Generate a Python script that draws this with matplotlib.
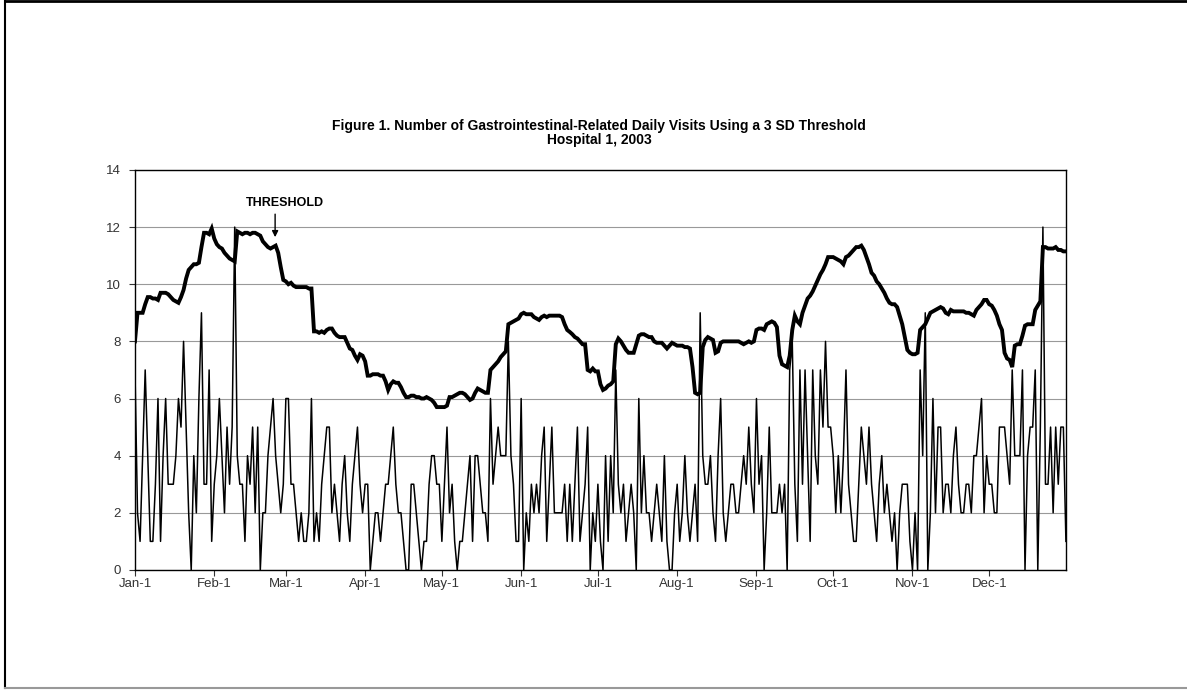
import matplotlib
matplotlib.use("Agg")
import matplotlib.pyplot as plt
from matplotlib.lines import Line2D
import numpy as np

plt.rcParams['font.family'] = ['Liberation Sans', 'DejaVu Sans']

# daily visit counts, Jan-1 .. Dec-31 (10 days per row)
visits = [
    7, 2, 1, 4, 7, 4, 1, 1, 3, 6,
    1, 4, 6, 3, 3, 3, 4, 6, 5, 8,
    5, 2, 0, 4, 2, 6, 9, 3, 3, 7,
    1, 3, 4, 6, 4, 2, 5, 3, 5, 12,
    4, 3, 3, 1, 4, 3, 5, 2, 5, 0,
    2, 2, 4, 5, 6, 4, 3, 2, 3, 6,
    6, 3, 3, 2, 1, 2, 1, 1, 2, 6,
    1, 2, 1, 3, 4, 5, 5, 2, 3, 2,
    1, 3, 4, 2, 1, 3, 4, 5, 3, 2,
    3, 3, 0, 1, 2, 2, 1, 2, 3, 3,
    4, 5, 3, 2, 2, 1, 0, 0, 3, 3,
    2, 1, 0, 1, 1, 3, 4, 4, 3, 3,
    1, 3, 5, 2, 3, 1, 0, 1, 1, 2,
    3, 4, 1, 4, 4, 3, 2, 2, 1, 6,
    3, 4, 5, 4, 4, 4, 8, 4, 3, 1,
    1, 6, 0, 2, 1, 3, 2, 3, 2, 4,
    5, 1, 3, 5, 2, 2, 2, 2, 3, 1,
    3, 1, 3, 5, 1, 2, 3, 5, 0, 2,
    1, 3, 1, 0, 4, 1, 4, 2, 7, 3,
    2, 3, 1, 2, 3, 2, 0, 6, 2, 4,
    2, 2, 1, 2, 3, 2, 1, 4, 1, 0,
    0, 2, 3, 1, 2, 4, 2, 1, 2, 3,
    1, 9, 4, 3, 3, 4, 2, 1, 4, 6,
    2, 1, 2, 3, 3, 2, 2, 3, 4, 3,
    5, 3, 2, 6, 3, 4, 0, 2, 5, 2,
    2, 2, 3, 2, 3, 0, 7, 8, 3, 1,
    7, 3, 7, 4, 1, 7, 4, 3, 7, 5,
    8, 5, 5, 4, 2, 4, 2, 4, 7, 3,
    2, 1, 1, 3, 5, 4, 3, 5, 3, 2,
    1, 3, 4, 2, 3, 2, 1, 2, 0, 2,
    3, 3, 3, 1, 0, 2, 0, 7, 4, 9,
    0, 2, 6, 2, 5, 5, 2, 3, 3, 2,
    4, 5, 3, 2, 2, 3, 3, 2, 4, 4,
    5, 6, 2, 4, 3, 3, 2, 2, 5, 5,
    5, 4, 3, 7, 4, 4, 4, 7, 0, 4,
    5, 5, 7, 0, 5, 12, 3, 3, 5, 2,
    5, 3, 5, 5, 1,
]

# 3 SD threshold, same days
threshold = [
    # Jan
    8.0, 9.0, 9.0, 9.0, 9.3, 9.55, 9.55, 9.5, 9.5, 9.45,
    9.7, 9.7, 9.7, 9.65, 9.55, 9.45, 9.4, 9.35, 9.55, 9.8,
    10.2, 10.5, 10.6, 10.7, 10.7, 10.75, 11.3, 11.8, 11.8, 11.75, 11.95,
    # Feb
    11.6, 11.4, 11.3, 11.25, 11.1, 11.0, 10.9, 10.85, 10.8, 11.85,
    11.8, 11.75, 11.8, 11.8, 11.75, 11.8, 11.8, 11.75, 11.7, 11.5,
    11.4, 11.3, 11.25, 11.3, 11.35, 11.1, 10.6, 10.15,
    # Mar
    10.1, 10.0, 10.05, 9.95, 9.9, 9.9, 9.9, 9.9, 9.9, 9.85,
    9.85, 8.35, 8.35, 8.3, 8.35, 8.3, 8.4, 8.45, 8.45, 8.3,
    8.2, 8.15, 8.15, 8.15, 7.95, 7.75, 7.7, 7.5, 7.35, 7.55, 7.5,
    # Apr
    7.3, 6.8, 6.8, 6.85, 6.85, 6.85, 6.8, 6.8, 6.6, 6.3,
    6.5, 6.6, 6.55, 6.55, 6.4, 6.2, 6.05, 6.05, 6.1, 6.1,
    6.05, 6.05, 6.0, 6.0, 6.05, 6.0, 5.95, 5.85, 5.7, 5.7,
    # May
    5.7, 5.7, 5.75, 6.05, 6.05, 6.1, 6.15, 6.2, 6.2, 6.15,
    6.05, 5.95, 6.0, 6.2, 6.35, 6.3, 6.25, 6.2, 6.2, 7.0,
    7.1, 7.2, 7.3, 7.45, 7.55, 7.65, 8.6, 8.65, 8.7, 8.75, 8.8,
    # Jun
    8.95, 9.0, 8.95, 8.95, 8.95, 8.85, 8.8, 8.75, 8.85, 8.9,
    8.85, 8.9, 8.9, 8.9, 8.9, 8.9, 8.85, 8.6, 8.4, 8.33,
    8.25, 8.15, 8.1, 8.0, 7.9, 7.9, 7.0, 6.95, 7.05, 6.95,
    # Jul
    6.95, 6.5, 6.3, 6.35, 6.45, 6.5, 6.6, 7.9, 8.1, 8.0,
    7.85, 7.7, 7.6, 7.6, 7.6, 7.9, 8.2, 8.25, 8.25, 8.2,
    8.15, 8.15, 8.0, 7.95, 7.95, 7.95, 7.85, 7.75, 7.85, 7.95, 7.9,
    # Aug
    7.85, 7.85, 7.85, 7.8, 7.8, 7.75, 7.1, 6.2, 6.15, 6.2,
    7.8, 8.05, 8.15, 8.1, 8.05, 7.6, 7.65, 7.95, 8.0, 8.0,
    8.0, 8.0, 8.0, 8.0, 8.0, 7.95, 7.9, 7.95, 8.0, 7.95, 8.0,
    # Sep
    8.4, 8.45, 8.45, 8.4, 8.6, 8.65, 8.7, 8.65, 8.5, 7.5,
    7.2, 7.15, 7.1, 7.5, 8.4, 8.9, 8.7, 8.6, 9.0, 9.25,
    9.5, 9.6, 9.75, 9.95, 10.15, 10.35, 10.5, 10.7, 10.95, 10.95,
    # Oct
    10.95, 10.9, 10.85, 10.8, 10.7, 10.95, 11.0, 11.1, 11.2, 11.3,
    11.3, 11.35, 11.2, 10.95, 10.7, 10.4, 10.3, 10.1, 10.0, 9.85,
    9.7, 9.5, 9.35, 9.3, 9.3, 9.2, 8.9, 8.6, 8.15, 7.7, 7.6,
    # Nov
    7.55, 7.55, 7.6, 8.4, 8.5, 8.6, 8.8, 9.0, 9.05, 9.1,
    9.15, 9.2, 9.15, 9.0, 8.95, 9.1, 9.05, 9.05, 9.05, 9.05,
    9.05, 9.0, 9.0, 8.95, 8.9, 9.1, 9.2, 9.3, 9.45, 9.45,
    # Dec
    9.3, 9.25, 9.1, 8.9, 8.6, 8.4, 7.6, 7.4, 7.35, 7.1,
    7.85, 7.9, 7.9, 8.2, 8.55, 8.6, 8.6, 8.6, 9.1, 9.25,
    9.4, 11.3, 11.3, 11.25, 11.25, 11.25, 11.3, 11.2, 11.2, 11.15, 11.15,
]

month_labels = ["Jan-1", "Feb-1", "Mar-1", "Apr-1", "May-1", "Jun-1",
                "Jul-1", "Aug-1", "Sep-1", "Oct-1", "Nov-1", "Dec-1"]
month_days = [31, 28, 31, 30, 31, 30, 31, 31, 30, 31, 30, 31]

n = min(len(visits), len(threshold))
days = np.arange(n)
month_starts = np.cumsum([0] + month_days[:-1])

fig = plt.figure(figsize=(11.87, 6.9), dpi=100)
ax = fig.add_axes([0.1137, 0.174, 0.7843, 0.5797])

ax.plot(days, visits[:n], color='black', linewidth=1.1)
ax.plot(days, threshold[:n], color='black', linewidth=2.8, solid_joinstyle='miter')

ax.set_xlim(0, 364)
ax.set_ylim(0, 14)
ax.set_yticks(range(0, 15, 2))
ax.set_xticks(month_starts)
ax.set_xticklabels(month_labels)
ax.tick_params(axis='both', labelsize=9.5, colors='#333333', length=4, width=0.8)
ax.tick_params(axis='y', pad=6)
ax.tick_params(axis='x', pad=2)
ax.yaxis.grid(True, color='#999999', linewidth=0.8)
ax.set_axisbelow(True)
for s in ax.spines.values():
    s.set_linewidth(1.0)

# label for the thick line
ax.text(58.5, 12.85, "THRESHOLD", fontsize=9, fontweight='bold',
        ha='center', va='center')
ax.annotate("", xy=(54.8, 11.55), xytext=(54.8, 12.55),
            arrowprops=dict(arrowstyle='-|>', color='black', lw=1.0,
                            mutation_scale=9))

fig.text(0.505, 0.818,
         "Figure 1. Number of Gastrointestinal-Related Daily Visits Using a 3 SD Threshold",
         ha='center', va='center', fontsize=10, fontweight='bold')
fig.text(0.505, 0.797, "Hospital 1, 2003",
         ha='center', va='center', fontsize=10, fontweight='bold')

# page frame (left and top black, bottom grey)
fig.add_artist(Line2D([0.0042, 0.0042], [0.003, 0.999], color='black', linewidth=1.5))
fig.add_artist(Line2D([0.0042, 1.0], [0.998, 0.998], color='black', linewidth=2))
fig.add_artist(Line2D([0.0042, 1.0], [0.003, 0.003], color='#999999', linewidth=1.5))

plt.savefig("out.png", dpi=100)
